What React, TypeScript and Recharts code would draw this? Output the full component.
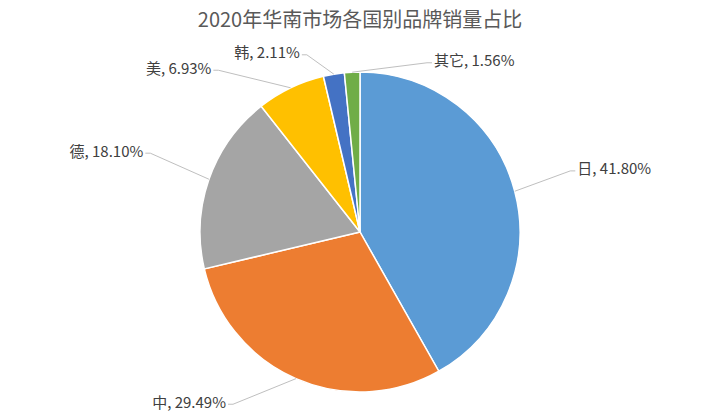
import { PieChart, Pie, Cell } from "recharts";

const brands = ["日", "中", "德", "美", "韩", "其它"];
const shares = [41.8, 29.49, 18.1, 6.93, 2.11, 1.56];
const colors = ["#5B9BD5", "#ED7D31", "#A5A5A5", "#FFC000", "#4472C4", "#70AD47"];

// where each label's leader line bends (polar, around pie centre)
const labelAngles = [16.2, -126.4, 159.4, 131.2, 106.7, 68.4];
const labelRadii = [219, 214, 224, 215, 185, 182];

const chartData = brands.map((name, i) => ({ name, value: shares[i] }));

const RADIAN = Math.PI / 180;

function renderLabel(props: any) {
  const { cx, cy, midAngle, outerRadius, index, name, value } = props;
  const ex = cx + outerRadius * Math.cos(-midAngle * RADIAN);
  const ey = cy + outerRadius * Math.sin(-midAngle * RADIAN);
  const a = labelAngles[index];
  const r = labelRadii[index];
  const bx = cx + r * Math.cos(-a * RADIAN);
  const by = cy + r * Math.sin(-a * RADIAN);
  const dir = bx >= cx ? 1 : -1;
  const tx = bx + dir * 5;
  return (
    <g>
      <polyline
        points={`${ex},${ey} ${bx},${by} ${tx},${by}`}
        fill="none"
        stroke="#BFBFBF"
        strokeWidth={1}
      />
      <text
        x={tx + dir * 2}
        y={by - 3}
        textAnchor={dir > 0 ? "start" : "end"}
        dominantBaseline="central"
        fill="#404040"
        fontSize={15}
        fontFamily="'Noto Sans CJK SC', 'Noto Sans', sans-serif"
      >
        {`${name}, ${value.toFixed(2)}%`}
      </text>
    </g>
  );
}

export default function App() {
  return (
    <div style={{ position: "absolute", left: 0, top: 0, width: 720, height: 415, background: "#fff" }}>
      <div
        style={{
          position: "absolute",
          top: 5,
          left: 0,
          width: 720,
          textAlign: "center",
          fontSize: 20,
          color: "#595959",
          fontFamily: "'Noto Sans CJK SC', 'Noto Sans', sans-serif",
          lineHeight: "28px",
        }}
      >
        2020年华南市场各国别品牌销量占比
      </div>
      <PieChart width={720} height={415} margin={{ top: 0, right: 0, bottom: 0, left: 0 }}>
        <Pie
          data={chartData}
          dataKey="value"
          nameKey="name"
          cx={360}
          cy={232}
          outerRadius={160}
          startAngle={90}
          endAngle={-270}
          stroke="#fff"
          strokeWidth={1.5}
          labelLine={false}
          label={renderLabel}
          isAnimationActive={false}
        >
          {chartData.map((d, i) => (
            <Cell key={d.name} fill={colors[i]} />
          ))}
        </Pie>
      </PieChart>
    </div>
  );
}
